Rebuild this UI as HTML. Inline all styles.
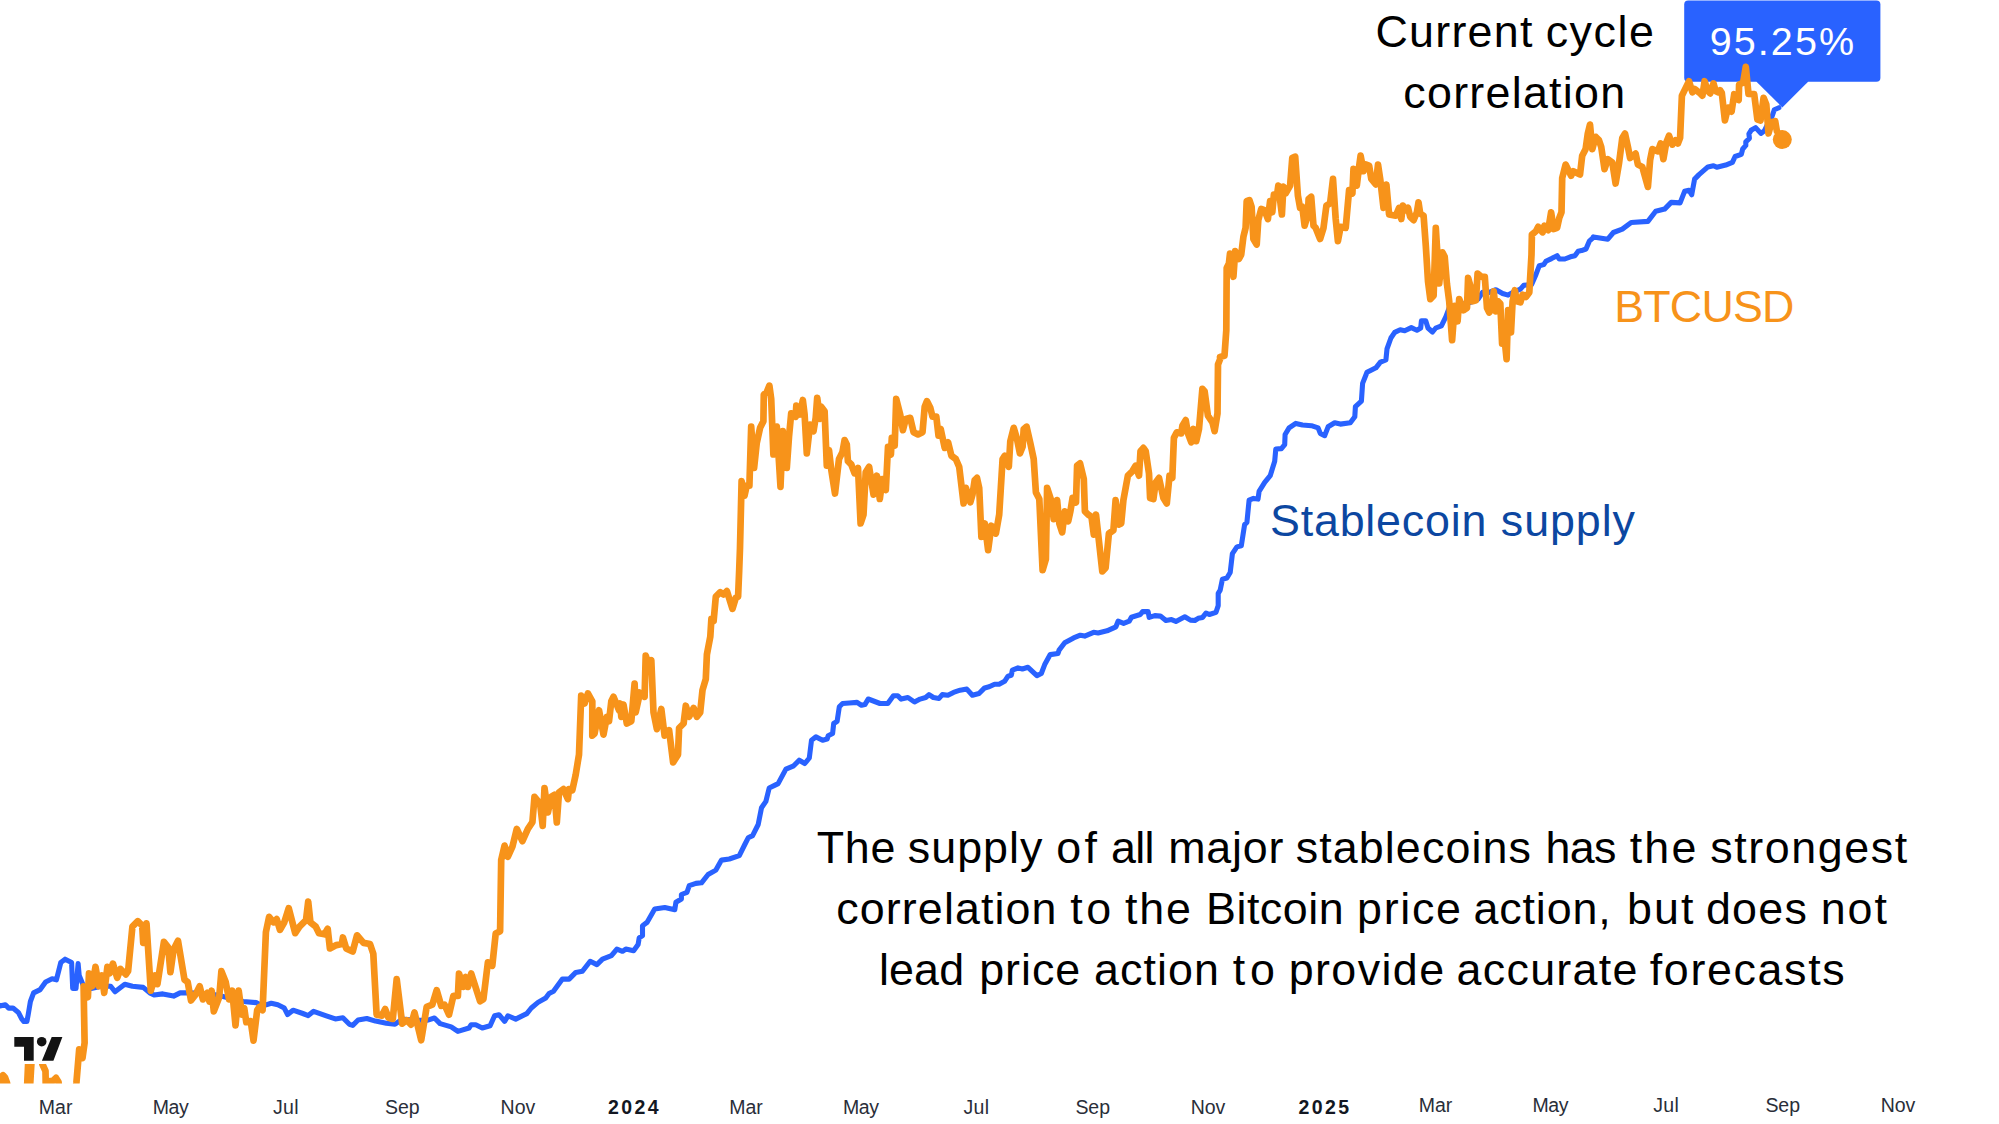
<!DOCTYPE html>
<html><head><meta charset="utf-8"><title>Chart</title>
<style>
html,body{margin:0;padding:0;background:#fff;}
body{width:1999px;height:1124px;overflow:hidden;position:relative;font-family:"Liberation Sans",sans-serif;}
svg{position:absolute;left:0;top:0;display:block;}
text{font-family:"Liberation Sans",sans-serif;}
.ax{font-size:19.5px;fill:#2a2e39;}
.ax.b{font-weight:bold;fill:#131722;}
.big{font-size:44.8px;fill:#000;}
</style></head><body>
<svg width="1999" height="1124" viewBox="0 0 1999 1124">
<defs><clipPath id="cp"><rect x="0" y="0" width="1999" height="1083.4"/></clipPath></defs>
<rect x="1684.2" y="0.5" width="196.2" height="81.3" rx="4" fill="#2962FF"/>
<path d="M1756.5 81.8 L1756.5 80 L1808.1 80 L1808.1 81.8 L1782.3 107.4 Z" fill="#2962FF"/>
<g clip-path="url(#cp)" fill="none" stroke-linejoin="round" stroke-linecap="round">
<path d="M-6.5 1001.5 L0 1005.9 L5.4 1004.8 L8.7 1008.1 L13 1008.1 L18.4 1012.4 L21.7 1018.9 L23.9 1021.5 L26.9 1021.5 L28.2 1014.6 L30.4 1001.5 L33.6 992.9 L40.2 989.6 L45.6 982 L52.1 978.8 L56.4 979.8 L60.8 962.5 L65.1 959.2 L71.6 962.5 L72.7 988.5 L76 988.5 L78.1 963.6 L79.2 975.5 L83.6 986.3 L91.2 988.5 L102 985.9 L110.7 986.3 L115 991.8 L124.8 984.2 L132.4 986.3 L143.2 987.4 L149.8 992.9 L154.1 995 L162.8 993.9 L173.6 996.1 L180.1 992.9 L188.8 992.9 L201.8 993.3 L217 995 L230.1 998.3 L243.1 1001.5 L256.1 1002.6 L262.6 1005.9 L271.3 1003.3 L277.8 1004.8 L284.3 1008.1 L287.6 1014.6 L293 1010.2 L302.8 1013.5 L308.2 1015.6 L313.6 1011.3 L325.6 1015.6 L335.3 1018.9 L342.9 1017.8 L349.4 1024.3 L352.7 1025.4 L358.1 1020 L366.8 1018.5 L375.5 1021.1 L386.3 1023.2 L395 1024.3 L402.2 1019.1 L415.6 1020.2 L427.8 1020.2 L434.5 1018 L440.1 1023.6 L451.2 1026.9 L457.9 1031.4 L469 1028 L471.2 1024.7 L475.7 1024.7 L482.3 1028 L490.1 1025.8 L494.6 1015.8 L499 1014.7 L504.6 1021.4 L507.9 1015.8 L515.7 1019.1 L526.8 1013.6 L531.3 1008 L538 1002.4 L545.7 998 L549.1 993.5 L553.5 991.3 L562.4 979.1 L569.1 979.1 L575.8 972.4 L582.4 971.3 L590.2 961.3 L596.9 964.6 L602.5 959.1 L611.4 955.7 L616.9 949.1 L622.5 951.3 L625.8 949.1 L633.6 950.8 L638.1 944.6 L639.2 937.9 L642.5 935.7 L642.5 925.7 L647 922.4 L654.7 909 L664.8 907.5 L674.8 909.7 L675.9 902.3 L681.4 899 L681.4 894.5 L687 892.3 L689.2 885.7 L695.9 883.4 L701.5 882.8 L708.1 874.5 L715.9 870.1 L721.5 860.1 L729.3 859 L739.3 855.6 L744.8 844.5 L748.2 837.8 L752.6 835.6 L758.2 824.5 L761.5 807.8 L765.9 801.4 L769.2 788 L778.1 783.6 L785.9 769.1 L793.7 765.8 L799.2 760.2 L804.8 763.5 L809.3 758 L811.5 740.2 L815.9 736.9 L822.6 740.2 L827.1 739.1 L828.2 735.7 L832.6 733.5 L833.7 723.5 L837.1 721.3 L839.3 706.8 L842.6 703.5 L849.3 703 L857.1 702.4 L861.5 705.3 L864.9 704.6 L868.2 699 L880 703.5 L887.8 703.5 L893.4 695.7 L897.8 695.7 L901.2 699.1 L907.9 697.5 L914.5 702 L920.1 699.1 L925.7 697.5 L929 694.6 L933.4 697.5 L939 698.4 L942.3 694.6 L947.9 695.3 L953.5 692.4 L960.1 690.2 L966.8 689.1 L972.4 695.3 L979 693.5 L984.6 687.9 L989.1 686.8 L994.6 684.2 L999.1 684.2 L1004.6 681.3 L1008 676.2 L1011.3 675.3 L1012.4 670.1 L1018 667.9 L1022.4 669 L1028 667.3 L1036.9 675.7 L1041.3 673.5 L1044.7 664.6 L1050.2 654.6 L1058 653.5 L1059.1 650.1 L1064.7 642.8 L1073.6 637.9 L1080.3 635.2 L1084.7 636.1 L1093.6 632.3 L1098.1 633 L1107 630.8 L1115.9 626.8 L1118.1 621.2 L1123.6 623.4 L1129.2 621.2 L1131.4 617.2 L1140.3 614.5 L1142.6 611.6 L1148.1 611.6 L1149.2 617.4 L1154.8 615.6 L1160.4 616.1 L1165.9 620.5 L1171.5 619.6 L1175.9 621.4 L1184.8 616.8 L1190.4 620.1 L1194.8 620.5 L1198.2 618.3 L1202.6 617.4 L1206 613 L1209.3 614.5 L1216 612.3 L1218.2 605.6 L1218.2 593.4 L1220.2 590.1 L1222.4 579.2 L1226.9 578 L1230.2 572.5 L1232.4 553.6 L1236.9 546.9 L1241.3 545.8 L1244.6 524.6 L1246.9 522.4 L1249.1 500.2 L1253.5 498.4 L1258 499.1 L1259.1 491.3 L1264.7 482.4 L1270.2 475.7 L1274.7 461.2 L1275.8 449 L1281.4 448.6 L1284.7 444.6 L1285.1 434.5 L1289.1 427.9 L1295.8 423.4 L1302.5 425 L1311.4 425.7 L1318.1 427.9 L1320.3 433.4 L1324.7 435.7 L1328.1 426.8 L1334.7 422.8 L1340.3 424.1 L1350.3 422.8 L1354.8 416.8 L1355.4 406.7 L1361.4 401.2 L1362.6 383.4 L1367 372.3 L1371.5 370 L1375.9 367.8 L1380.4 362.2 L1385.9 360 L1387 348.9 L1390.9 338 L1394.7 332.4 L1400.2 329.8 L1404.7 330.7 L1411.3 327.6 L1416.9 330.2 L1420.7 328 L1421.4 320.9 L1425.8 320.9 L1428 328 L1432.5 332 L1435.8 328 L1441.4 325.8 L1445.8 316.9 L1449.2 308 L1460.3 304.6 L1470.3 302.4 L1478.1 299.1 L1482.5 292.4 L1489.2 292.4 L1495.9 289.7 L1502.6 293.5 L1508.1 295.1 L1513.7 292 L1520.4 289.1 L1523.7 285.3 L1531.5 284.6 L1535.9 274.6 L1539.3 265.7 L1543.7 264.6 L1545.9 261.3 L1551.5 258.6 L1557.1 255.7 L1559.3 259 L1564.8 259 L1570.4 256.8 L1574.9 255.7 L1578.2 251.2 L1581.5 250.6 L1586 249 L1589.3 241.2 L1593.8 237.2 L1593.4 236.9 L1607.8 239.2 L1613.4 232.5 L1622.3 229.1 L1631.2 222.5 L1647.9 221.4 L1655.7 211.3 L1664.6 209.1 L1671.2 202.4 L1680.1 202.9 L1684.6 191.3 L1689 190.2 L1691.7 194.7 L1694.6 179.1 L1699 174.6 L1707.9 166.9 L1713.5 165.7 L1716.8 167.3 L1725.7 165.1 L1732.4 162.4 L1735.1 156.5 L1741.3 154.3 L1742.7 149 L1745.8 145.4 L1745.8 141.8 L1749.4 138.3 L1748.9 133.8 L1751.1 130.3 L1755.6 127.6 L1760.9 133.4 L1764.5 130.7 L1768.5 122.3 L1771.6 117.8 L1774.3 109.8 L1778.9 107.7" stroke="#2962FF" stroke-width="5.1"/>
<path d="M-6 1085 L1 1083.5 L-4 1080 L0 1078 L3 1075.2 L5 1077.5 L7 1083 L9 1092 L20 1100 L26.5 1100 L28.3 1060 L30.2 1084 L31.7 1058 L36 1050 L40 1055 L42.3 1064 L45.5 1071 L45.9 1095 L48.5 1095 L50 1081 L52.5 1081.2 L56 1077.9 L58.5 1082 L60 1095 L72 1100 L75.5 1090 L76.4 1082.9 L79.2 1049.3 L82.5 1058 L84.6 1042.8 L83.6 986.3 L87.9 997.2 L89 973.3 L92.2 986.3 L95.5 966.8 L98.8 986.3 L102 975.5 L104.2 992.9 L107.4 966.8 L109.6 973.3 L112.9 963.6 L117.2 977.7 L120.5 969 L125.9 974.4 L128.1 971.2 L132.4 926.7 L137.8 921.2 L142.2 925.6 L143.2 942.9 L146.5 923.4 L150.8 990.7 L155.2 975.5 L157.4 984.2 L163.9 941.9 L168.2 947.3 L170.4 972.2 L173.6 949.5 L178 940.8 L184.5 979.8 L187.7 982 L191 1000.5 L195.3 995 L199.7 986.3 L202.9 999.4 L207.3 992.9 L209.4 1001.5 L211.6 990.7 L213.8 1011.3 L219.2 997.2 L221.4 971.2 L225.7 982 L229 999.4 L232.2 990.7 L235.5 1025.4 L238.7 990.7 L242 1014.6 L244.2 1008.1 L246.3 1022.2 L250.7 1021.1 L253.5 1040.6 L257.2 1010.2 L259.4 1007 L262.6 1010.2 L265.9 932.1 L269.1 916.9 L273.5 922.3 L276.7 919.1 L280 929.9 L284.3 922.3 L288.7 908.2 L295.2 933.2 L299.5 926.7 L306 920.2 L308.2 901.7 L310.4 922.3 L315.8 926.7 L319 933.2 L324.5 934.3 L327.7 928.8 L329.9 948.4 L336.4 945.1 L341.8 944 L342.9 937.5 L346.2 948.4 L352.7 951.6 L357 935.3 L363.5 942.9 L370 944 L373.3 953.8 L376.6 1014.6 L382 1015.6 L385.2 1009.1 L388.5 1017.8 L392.8 1018.9 L396.7 979.1 L402.2 1023.6 L406.7 1020.2 L411.1 1024.7 L414.5 1012.5 L421.2 1040.3 L426.7 1006.9 L432.3 1004.7 L436.7 990.2 L441.2 1005.8 L444.5 1004.7 L449 1014.7 L453.4 995.8 L457.9 995.8 L459 973.5 L463.4 986.9 L465.7 976.9 L467.9 986.9 L471.2 973.5 L480.1 1001.3 L483.4 999.1 L487.9 962.4 L492.3 965.7 L495.7 933.5 L500.1 931.3 L501.2 860.1 L504.6 845.6 L507.9 856.7 L512.4 846.7 L516.8 828.9 L522.4 841.2 L527.9 828.9 L532.4 822.2 L534.5 796.9 L540.1 803.6 L542.7 825.8 L544.5 788 L547.9 812.5 L551.2 796.9 L554.5 794.7 L556.8 822.5 L559 792.5 L563.4 789.1 L567.9 799.1 L569 789.1 L572.3 790.2 L575.7 774.7 L579 754.6 L581.2 695.7 L584.6 703.5 L587.9 693.5 L592.3 701.3 L592.3 735.7 L594.6 733.5 L599 710.2 L603.5 734.6 L606.8 716.8 L609 721.3 L611.3 701.3 L613.5 696.8 L619 710.2 L620.2 703.5 L621.3 716.8 L623.5 704.6 L626.8 723.5 L631.3 721.3 L634.6 683.5 L635.7 712.4 L639.1 696.8 L639.1 692.4 L644.6 696.8 L645.7 655.7 L649.1 665.7 L651.3 660.1 L653.5 712.4 L656.9 729.1 L661.3 709 L664.6 735.7 L669.1 730.2 L673.1 762.4 L678 754.6 L679.1 728 L683.6 723.5 L685.8 705.7 L689.1 716.8 L693.6 707.9 L696.9 716.8 L700.2 712.4 L702.5 690.1 L705.8 679 L706.9 654.5 L710.3 636.7 L711.4 618.9 L713.6 621.2 L715.8 596.7 L720.3 592.2 L723.6 594.5 L726.9 591.1 L732.5 608.9 L735.8 597.8 L738.1 596.7 L739.2 570 L740 548 L741.6 481.2 L744.5 495.7 L746.7 485.7 L749.4 485.7 L751.2 426.7 L754.1 467.9 L756.7 443.4 L760.1 427.8 L763.4 421.2 L763.8 394.5 L766.7 392.2 L769.4 385.6 L771.2 398.9 L773.4 454.5 L776.8 426.7 L780.5 486.8 L782.8 431.2 L786.8 467.9 L789 436.7 L791.2 413.4 L795.7 416.7 L796.3 405.6 L800.1 414.5 L802.8 400 L804.6 414.5 L806.8 453.4 L810.1 424.5 L813.5 431.2 L815.7 417.8 L817.2 397.8 L820.1 418.9 L821.2 406.7 L824.6 411.2 L826.8 465.7 L829 450.1 L831.3 470.1 L835 493.5 L839 459 L842.4 452.3 L844.6 440.1 L846.8 444.5 L847.9 461.2 L851.3 464.5 L854.6 473.4 L858 467.9 L860.6 523.5 L863.5 514.6 L865.7 472.3 L869.1 466.8 L873.5 494.6 L876.9 475.7 L879.8 499 L882.4 479 L885.8 490.1 L888 446.8 L890.9 454.5 L891.8 437.9 L894.7 445.6 L896.2 398.9 L900.2 414.5 L902.9 430.1 L905.8 418.9 L910.2 417.8 L913.6 432.3 L918 434.5 L922.5 432.3 L924.7 406.7 L926.9 401.1 L930.3 407.8 L932.5 416.7 L936.3 416.7 L938.5 435.6 L940.7 429 L944.7 447.9 L948.1 442.3 L951.4 455.7 L955.8 459 L959.2 466.8 L963.6 503.5 L965.9 487.9 L970.3 502.4 L972.5 494.6 L974.7 480.1 L977 477.9 L979.2 487.9 L981.4 536.9 L984.8 523.5 L988.1 550.2 L991.4 525.7 L995.9 533.5 L999.2 514.6 L1002.6 459 L1004.8 455.7 L1008.8 466.8 L1010.3 441.2 L1013.7 427.8 L1017 439 L1019.9 453.4 L1022.6 446.8 L1023.7 429 L1026.6 426.7 L1030.4 443.4 L1033.7 459 L1035.9 492.4 L1039.3 499 L1042.6 570.2 L1045.9 559.1 L1047.1 487.9 L1051.5 501.3 L1053.7 519.1 L1057.1 500.1 L1059.3 523.5 L1062.2 532.4 L1064.8 511.3 L1068.2 521.3 L1070.4 511.3 L1072.6 497.9 L1076 502.4 L1077.1 465.7 L1080 463.4 L1083.8 479 L1084.9 511.3 L1088.2 514.6 L1091.5 516.8 L1093.8 534.6 L1096 514.6 L1102.3 571.4 L1105.6 568 L1108.9 533.5 L1113.4 530.2 L1115.6 500.2 L1119 524.6 L1121.2 523.5 L1123.4 500.2 L1127.9 475.7 L1132.3 471.3 L1135.6 465.7 L1139 475.7 L1140.5 451.2 L1143.4 447.9 L1145.7 451.2 L1149 473.5 L1150.1 498 L1153.4 499.1 L1155.7 482.4 L1159 477.9 L1163.4 498 L1166.8 503.5 L1169.5 475.7 L1172.3 477.9 L1173.9 437.9 L1176.8 432.3 L1181.2 433.4 L1182.4 425.7 L1185.7 420.1 L1187.9 433.4 L1191.3 442.3 L1193.5 429 L1196.2 441.2 L1199 429 L1202.4 388.9 L1204.6 391.2 L1207.9 415.6 L1212.4 422.3 L1214.6 431.2 L1217.5 413.4 L1218 364.5 L1220.2 358.9 L1220 356.9 L1224.5 355.8 L1226.3 330.2 L1226.7 267.9 L1228.9 263.5 L1230 253.5 L1233.4 276.8 L1235.2 251.2 L1238.9 259 L1241.2 254.6 L1243.4 236.8 L1245.6 227.9 L1246.7 201.2 L1249.4 200.1 L1251.6 206.8 L1253.4 239 L1256.7 244.6 L1258.3 220.1 L1261.2 209 L1264.5 210.1 L1267.9 219 L1270.1 201.2 L1272.3 212.3 L1273.9 194.5 L1276.8 196.7 L1278.3 185.6 L1281.9 214.5 L1283.4 186.7 L1285.7 193.4 L1290.1 185.6 L1292.3 157.8 L1295.2 156.7 L1297.9 195.6 L1300.1 207.9 L1302.3 206.8 L1304.6 225.7 L1307.9 214.5 L1308.6 199 L1311.2 196.7 L1313.5 225.7 L1315.7 227.9 L1320.1 239 L1323.5 227.9 L1326.4 205.6 L1330.1 203.4 L1333 178.9 L1335.7 219 L1337.9 241.2 L1340.6 226.8 L1345.7 227.9 L1349.1 190.1 L1352.4 193.4 L1353.5 168.9 L1356.8 185.6 L1359.1 166.7 L1360.6 155.6 L1363.5 171.2 L1365.7 164.5 L1369.1 165.6 L1371.3 178.9 L1375.8 184.5 L1378 164.5 L1380.2 178.9 L1383.5 207.9 L1386.4 184.5 L1389.1 214.5 L1395.8 215.7 L1399.1 207.9 L1401.3 219 L1402.9 205.6 L1405.8 210.1 L1408 207.9 L1410.2 216.8 L1413.6 220.1 L1416.9 212.3 L1418.5 202.3 L1420.2 213.4 L1423.6 215.7 L1425.8 245.7 L1428 281.3 L1430.3 299.1 L1433.6 295.7 L1435.8 227.9 L1439.2 283.5 L1442.5 252.4 L1444.7 256.8 L1446.9 283.5 L1449.2 301.3 L1452.1 340.2 L1454.7 305.8 L1457.6 321.3 L1459.2 299.1 L1463.6 310.2 L1467 308 L1468.1 277.9 L1470.3 285.7 L1472.5 301.3 L1475.9 300.2 L1477.6 273.5 L1481.4 276.8 L1484.8 276.8 L1487 308 L1489.2 312.4 L1492.5 308 L1493.7 291.3 L1495.9 311.3 L1498.1 301.3 L1500.3 303.5 L1502.1 343.6 L1503.7 330.2 L1506.6 359.1 L1508.1 310.2 L1511 332.4 L1512.6 301.3 L1514.8 290.2 L1517 301.3 L1520.4 302.4 L1522.6 294.6 L1525.9 296.9 L1529.3 292.4 L1531.5 254.6 L1531.9 234.6 L1535.9 231.2 L1538.2 226.8 L1542.6 232.3 L1544.4 225.7 L1548.2 230.1 L1551.1 212.3 L1553.7 229 L1557.1 227.9 L1559.3 217.9 L1561.5 212.3 L1562.2 178 L1565.6 164.6 L1571.1 175.8 L1573.3 171.3 L1580 174.6 L1582.2 155.7 L1585.6 149.1 L1587.8 133.5 L1590 124.6 L1592.3 149.1 L1595.6 136.8 L1598.9 140.2 L1601.2 146.8 L1604.5 169.1 L1607.8 159.1 L1612.3 162.4 L1615.6 183.5 L1619 163.5 L1622.3 137.9 L1625 133.5 L1627.9 146.8 L1630.1 158 L1635.6 153.5 L1637.9 164.6 L1642.3 166.9 L1647.9 186.9 L1650.1 160.2 L1652.3 149.1 L1657.9 151.3 L1660.6 143.5 L1663.4 159.1 L1666.3 142.4 L1669 135.7 L1672.3 144.6 L1675.7 140.2 L1677.9 143.5 L1680.1 137.9 L1681.9 95.7 L1685.7 87.9 L1689 81.2 L1692.4 92.3 L1694.6 89 L1700.2 93.4 L1702.4 95.7 L1704.6 81.2 L1707.9 91.2 L1710.2 93.4 L1713.5 83.4 L1715.7 91.2 L1718.4 92.3 L1720 90.2 L1721.8 92.9 L1724.9 120.5 L1728 107.6 L1731.6 111.6 L1734.2 94.2 L1738.7 100 L1739.1 84.5 L1743.1 82.7 L1745.8 66.9 L1748.5 93.8 L1754.2 94.2 L1757.4 119.6 L1760.5 120.5 L1763.6 97.8 L1766.3 104.5 L1768.5 133.4 L1771.6 122.3 L1775.2 121.2 L1776.9 131.2 L1782.3 139.6" stroke="#F7931A" stroke-width="6.7"/>
</g>
<circle cx="1782.3" cy="139.6" r="9.5" fill="#F7931A"/>
<g id="logo">
<path d="M11 1034 H65.8 L55.5 1064 H20.8 V1050 H11 Z" fill="#fff"/>
<g fill="#fff" stroke="#fff" stroke-width="6.4" stroke-linejoin="round">
<path d="M14.3 1037 H33.7 V1060.8 H24 V1046.7 H14.3 Z"/>
<circle cx="41.7" cy="1041.7" r="4.8"/>
<path d="M51.7 1037 H62.4 L53.4 1060.8 H41.9 Z"/>
</g>
<g fill="#131313">
<path d="M14.3 1037 H33.7 V1060.8 H24 V1046.7 H14.3 Z"/>
<circle cx="41.7" cy="1041.7" r="4.8"/>
<path d="M51.7 1037 H62.4 L53.4 1060.8 H41.9 Z"/>
</g>
</g>
<text id="t_pct" x="1781.9" y="54.5" text-anchor="middle" font-size="39.5" fill="#fff" textLength="144.4" lengthAdjust="spacing">95.25%</text>
<text class="big" x="1453.9" y="47.2" text-anchor="middle" textLength="157.0" lengthAdjust="spacing">Current</text>
<text class="big" x="1599.8" y="47.2" text-anchor="middle" textLength="108.3" lengthAdjust="spacing">cycle</text>
<text class="big" x="1514.2" y="107.7" text-anchor="middle" textLength="221.8" lengthAdjust="spacing">correlation</text>
<text class="big" x="1704.3" y="321.8" text-anchor="middle" textLength="180.1" lengthAdjust="spacing" style="fill:#F7931A">BTCUSD</text>
<text class="big" x="1378.2" y="536.4" text-anchor="middle" textLength="216.3" lengthAdjust="spacing" style="fill:#0c47a1">Stablecoin</text>
<text class="big" x="1567.9" y="536.4" text-anchor="middle" textLength="134.2" lengthAdjust="spacing" style="fill:#0c47a1">supply</text>
<text class="big" x="856.0" y="863.2" text-anchor="middle" textLength="78.6" lengthAdjust="spacing">The</text>
<text class="big" x="975.1" y="863.2" text-anchor="middle" textLength="134.6" lengthAdjust="spacing">supply</text>
<text class="big" x="1076.6" y="863.2" text-anchor="middle" textLength="40.8" lengthAdjust="spacing">of</text>
<text class="big" x="1132.7" y="863.2" text-anchor="middle" textLength="43.6" lengthAdjust="spacing">all</text>
<text class="big" x="1225.8" y="863.2" text-anchor="middle" textLength="115.0" lengthAdjust="spacing">major</text>
<text class="big" x="1413.3" y="863.2" text-anchor="middle" textLength="235.3" lengthAdjust="spacing">stablecoins</text>
<text class="big" x="1581.0" y="863.2" text-anchor="middle" textLength="70.8" lengthAdjust="spacing">has</text>
<text class="big" x="1663.0" y="863.2" text-anchor="middle" textLength="66.6" lengthAdjust="spacing">the</text>
<text class="big" x="1808.7" y="863.2" text-anchor="middle" textLength="197.1" lengthAdjust="spacing">strongest</text>
<text class="big" x="946.4" y="923.5" text-anchor="middle" textLength="220.1" lengthAdjust="spacing">correlation</text>
<text class="big" x="1090.7" y="923.5" text-anchor="middle" textLength="40.9" lengthAdjust="spacing">to</text>
<text class="big" x="1157.9" y="923.5" text-anchor="middle" textLength="66.0" lengthAdjust="spacing">the</text>
<text class="big" x="1274.8" y="923.5" text-anchor="middle" textLength="137.5" lengthAdjust="spacing">Bitcoin</text>
<text class="big" x="1409.0" y="923.5" text-anchor="middle" textLength="103.9" lengthAdjust="spacing">price</text>
<text class="big" x="1542.1" y="923.5" text-anchor="middle" textLength="137.4" lengthAdjust="spacing">action,</text>
<text class="big" x="1660.2" y="923.5" text-anchor="middle" textLength="66.6" lengthAdjust="spacing">but</text>
<text class="big" x="1756.4" y="923.5" text-anchor="middle" textLength="101.0" lengthAdjust="spacing">does</text>
<text class="big" x="1853.8" y="923.5" text-anchor="middle" textLength="66.1" lengthAdjust="spacing">not</text>
<text class="big" x="921.5" y="984.5" text-anchor="middle" textLength="85.1" lengthAdjust="spacing">lead</text>
<text class="big" x="1029.7" y="984.5" text-anchor="middle" textLength="101.0" lengthAdjust="spacing">price</text>
<text class="big" x="1156.5" y="984.5" text-anchor="middle" textLength="124.9" lengthAdjust="spacing">action</text>
<text class="big" x="1253.8" y="984.5" text-anchor="middle" textLength="42.2" lengthAdjust="spacing">to</text>
<text class="big" x="1366.4" y="984.5" text-anchor="middle" textLength="155.4" lengthAdjust="spacing">provide</text>
<text class="big" x="1547.0" y="984.5" text-anchor="middle" textLength="180.9" lengthAdjust="spacing">accurate</text>
<text class="big" x="1747.2" y="984.5" text-anchor="middle" textLength="194.9" lengthAdjust="spacing">forecasts</text>

<text class="ax" x="55.6" y="1114.2" text-anchor="middle" textLength="33.6" lengthAdjust="spacing">Mar</text>
<text class="ax" x="170.7" y="1114.2" text-anchor="middle" textLength="36.0" lengthAdjust="spacing">May</text>
<text class="ax" x="285.7" y="1114.2" text-anchor="middle" textLength="25.6" lengthAdjust="spacing">Jul</text>
<text class="ax" x="402.3" y="1114.2" text-anchor="middle" textLength="34.6" lengthAdjust="spacing">Sep</text>
<text class="ax" x="517.9" y="1114.2" text-anchor="middle" textLength="34.6" lengthAdjust="spacing">Nov</text>
<text class="ax b" x="633.4" y="1114.2" text-anchor="middle" textLength="50.6" lengthAdjust="spacing">2024</text>
<text class="ax" x="746" y="1114.2" text-anchor="middle" textLength="33.6" lengthAdjust="spacing">Mar</text>
<text class="ax" x="861" y="1114.2" text-anchor="middle" textLength="36.0" lengthAdjust="spacing">May</text>
<text class="ax" x="976.3" y="1114.2" text-anchor="middle" textLength="25.6" lengthAdjust="spacing">Jul</text>
<text class="ax" x="1092.7" y="1114.2" text-anchor="middle" textLength="34.6" lengthAdjust="spacing">Sep</text>
<text class="ax" x="1208" y="1114.2" text-anchor="middle" textLength="34.6" lengthAdjust="spacing">Nov</text>
<text class="ax b" x="1323.8" y="1114.2" text-anchor="middle" textLength="50.6" lengthAdjust="spacing">2025</text>
<text class="ax" x="1435.5" y="1111.8" text-anchor="middle" textLength="33.6" lengthAdjust="spacing">Mar</text>
<text class="ax" x="1550.5" y="1111.8" text-anchor="middle" textLength="36.0" lengthAdjust="spacing">May</text>
<text class="ax" x="1666" y="1111.8" text-anchor="middle" textLength="25.6" lengthAdjust="spacing">Jul</text>
<text class="ax" x="1782.7" y="1111.8" text-anchor="middle" textLength="34.6" lengthAdjust="spacing">Sep</text>
<text class="ax" x="1898" y="1111.8" text-anchor="middle" textLength="34.6" lengthAdjust="spacing">Nov</text>
</svg>
</body></html>
